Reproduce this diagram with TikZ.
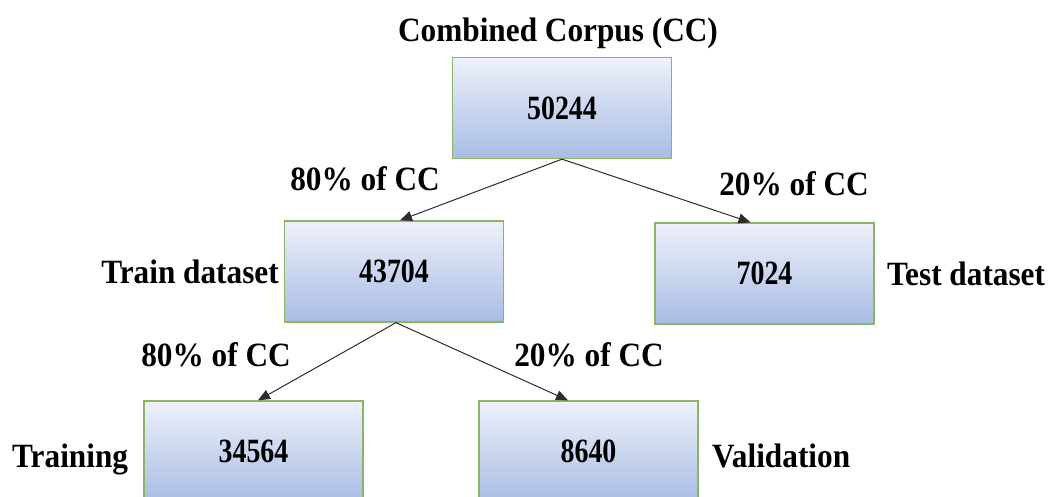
\documentclass[tikz,border=0pt]{standalone}
\usepackage{fontspec}
\setmainfont{Liberation Serif}[FakeStretch=0.92]
\newfontfamily\numfont{Liberation Serif}[FakeStretch=0.82]
\usetikzlibrary{arrows.meta,calc}

\definecolor{boxtop}{RGB}{238,241,250}
\definecolor{boxbot}{RGB}{168,188,228}
\definecolor{boxedge}{RGB}{140,180,100}
\definecolor{arrowgray}{RGB}{45,45,45}

\begin{document}
\begin{tikzpicture}[x=1pt,y=-1pt,
  splitbox/.style={rectangle, draw=boxedge, line width=1.3pt,
    top color=boxtop, bottom color=boxbot,
    minimum width=219pt, minimum height=101pt, inner sep=0pt,
    font=\numfont\bfseries\fontsize{34}{38}\selectfont},
  lbl/.style={inner sep=0pt, anchor=base, font=\bfseries\fontsize{34}{38}\selectfont},
  flow/.style={draw=arrowgray, line width=1pt, -{Triangle[length=12pt,width=10pt]}}]

\useasboundingbox (0,0) rectangle (1051,497);
\clip (0,0) rectangle (1051,497);

% data split boxes
\node[splitbox] (cc)         at (562,108)   {50244};
\node[splitbox] (train)      at (394,271.5) {43704};
\node[splitbox] (test)       at (764.5,273.5) {7024};
\node[splitbox] (training)   at (253.5,451.5) {34564};
\node[splitbox] (validation) at (588.5,451.5) {8640};

% split arrows
\draw[flow] (cc.south) -- ($(train.north)+(6,0)$);
\draw[flow] (cc.south) -- ($(test.north)+(-14,0)$);
\draw[flow] ($(train.south)+(2,0)$) -- ($(training.north)+(4.5,0)$);
\draw[flow] ($(train.south)+(2,0)$) -- ($(validation.north)+(-20.5,0)$);

% labels
\node[lbl] (title)   at (558,42)  {Combined Corpus (CC)};
\node[lbl] (pa)      at (365,190) {80\% of CC};
\node[lbl] (pb)      at (794,195) {20\% of CC};
\node[lbl, anchor=base east] (ltrain) at (279,283) {Train dataset};
\node[lbl, anchor=base west] (ltest)  at (887,285) {Test dataset};
\node[lbl] (pc)      at (216,366) {80\% of CC};
\node[lbl] (pd)      at (589,366) {20\% of CC};
\node[lbl, anchor=base west] (ltraining) at (12,467)  {Training};
\node[lbl, anchor=base west] (lval)      at (712,467) {Validation};
\end{tikzpicture}
\end{document}
